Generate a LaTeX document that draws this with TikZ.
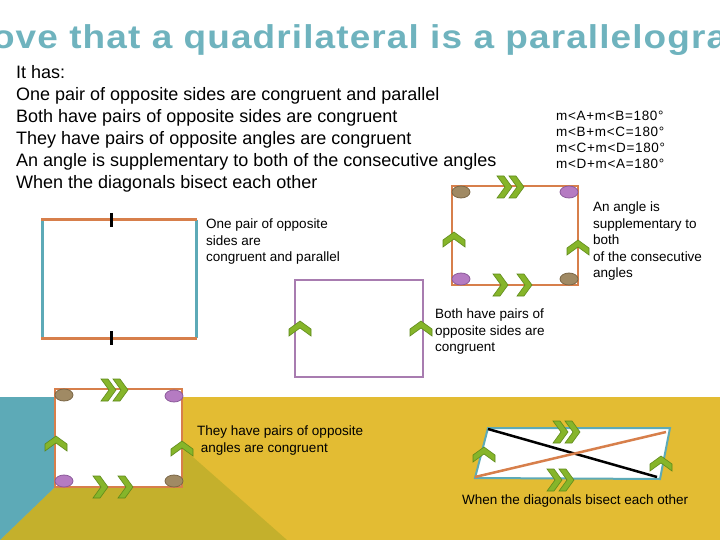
\documentclass[tikz,border=0pt]{standalone}
\usepackage{fontspec}
\setmainfont{Liberation Sans}
\begin{document}
\begin{tikzpicture}[x=1pt,y=-1pt,
  chev/.pic={\fill[chevgreen,draw=chevdark,line width=0.6pt] (-11,3)--(0,-5)--(11,3)--(11,10)--(0,2)--(-11,10)--cycle;},
  lbl/.style={anchor=north west,inner sep=0pt,font=\fontsize{13.5}{16.5}\selectfont,align=left},
  dotb/.style={fill=dotbrown,draw=dotbrownd,line width=0.8pt},
  dotp/.style={fill=dotpurple,draw=dotpurpled,line width=0.8pt}]
\definecolor{chevgreen}{HTML}{86B52A}
\definecolor{chevdark}{HTML}{5E8A1A}
\definecolor{myorange}{HTML}{D77F4B}
\definecolor{myteal}{HTML}{5DAAB7}
\definecolor{mypurple}{HTML}{A87CB0}
\definecolor{myyellow}{HTML}{E3BC33}
\definecolor{myolive}{HTML}{C4B02C}
\definecolor{dotbrown}{HTML}{A08A64}
\definecolor{dotbrownd}{HTML}{7A6646}
\definecolor{dotpurple}{HTML}{B57BC2}
\definecolor{dotpurpled}{HTML}{8A5A99}
\definecolor{titlecol}{HTML}{6FB3BE}
\useasboundingbox (0,0) rectangle (720,540);
\clip (0,0) rectangle (720,540);
% background
\fill[myyellow] (0,397) rectangle (720,540);
\fill[myolive] (55,487) -- (185,450) -- (287,540) -- (0,540) -- cycle;
\fill[myteal] (0,397) -- (55,397) -- (55,487) -- (0,540) -- cycle;
% title
\node[font=\fontsize{33}{33}\selectfont\bfseries,text=titlecol,xscale=1.12] (title) at (356,40) {\addfontfeature{LetterSpace=3}Prove that a quadrilateral is a parallelogram};
% list
\node[anchor=north west,inner sep=0pt,font=\fontsize{18}{22}\selectfont,align=left] (list) at (16,65)
{It has:\\One pair of opposite sides are congruent and parallel\\Both have pairs of opposite sides are congruent\\They have pairs of opposite angles are congruent\\An angle is supplementary to both of the consecutive angles\\When the diagonals bisect each other};
\node[anchor=north west,inner sep=0pt,font=\fontsize{13.5}{16}\selectfont,align=left] (eqs) at (556,111)
{\addfontfeature{LetterSpace=5}m<A+m<B=180°\\\addfontfeature{LetterSpace=5}m<B+m<C=180°\\\addfontfeature{LetterSpace=5}m<C+m<D=180°\\\addfontfeature{LetterSpace=5}m<D+m<A=180°};
% rect 1
\draw[myteal,line width=3pt] (42,220)--(42,338) (196,220)--(196,338);
\draw[myorange,line width=3pt] (41,220)--(197,220) (41,338)--(197,338);
\draw[black,line width=3pt] (111,213)--(111,227) (111,331)--(111,345);
\node[lbl] (l1) at (206,219) {One pair of opposite\\sides are\\congruent and parallel};
% rect 2
\fill[white] (295,280) rectangle (423,377);
\draw[mypurple,line width=2.5pt] (295,280) rectangle (423,377);
\pic at (300,326) {chev};
\pic at (421,326) {chev};
\node[lbl] (l2) at (435,309) {Both have pairs of\\opposite sides are\\congruent};
% rect 3
\draw[myorange,line width=1.5pt] (452,186) rectangle (578,285);
\draw[dotb] (461,192) ellipse (9 and 6);
\draw[dotp] (569,192) ellipse (9 and 6);
\draw[dotp] (461,279) ellipse (9 and 6);
\draw[dotb] (569,279) ellipse (9 and 6);
\pic[rotate=-90] at (507,187) {chev};
\pic[rotate=-90] at (519,187) {chev};
\pic[rotate=-90] at (503,285) {chev};
\pic[rotate=-90] at (527,285) {chev};
\pic at (454,237) {chev};
\pic at (578,245) {chev};
\node[lbl] (l3) at (593,202) {An angle is\\supplementary to\\both\\of the consecutive\\angles};
% rect 4
\fill[white] (55,389) rectangle (182,487);
\draw[myorange,line width=2.5pt] (55,389) rectangle (182,487);
\draw[dotb] (64,395) ellipse (9 and 6);
\draw[dotp] (174,396) ellipse (9 and 6);
\draw[dotp] (64,481) ellipse (9 and 6);
\draw[dotb] (174,481) ellipse (9 and 6);
\pic[rotate=-90] at (111,390) {chev};
\pic[rotate=-90] at (123,390) {chev};
\pic[rotate=-90] at (103,487) {chev};
\pic[rotate=-90] at (128,487) {chev};
\pic at (56,441) {chev};
\pic at (182,446) {chev};
\node[lbl] (l4) at (197,426) {They have pairs of opposite\\\ angles are congruent};
% parallelogram
\fill[white] (475,478)--(488,428)--(670,428)--(660,479)--cycle;
\draw[myteal,line width=2pt] (475,478)--(488,428)--(670,428)--(660,479)--cycle;
\draw[black,line width=2.5pt] (488,429)--(657,477);
\draw[myorange,line width=2.5pt] (475,477)--(666,432);
\pic[rotate=-90] at (563,432) {chev};
\pic[rotate=-90] at (575,432) {chev};
\pic[rotate=-90] at (557,480) {chev};
\pic[rotate=-90] at (569,480) {chev};
\pic at (484,452) {chev};
\pic at (661,461) {chev};
\node[lbl] (l5) at (462,495) {When the diagonals bisect each other};
\end{tikzpicture}
\end{document}
